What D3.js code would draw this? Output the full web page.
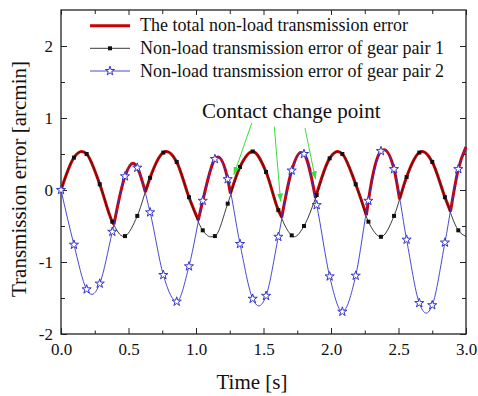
<!DOCTYPE html>
<html>
<head>
<meta charset="utf-8">
<script src="https://cdn.jsdelivr.net/npm/d3@7"></script>
<style>
  body { margin: 0; background: #fff; }
  svg text { font-family: "Liberation Serif", "Times New Roman", serif; fill: #111; }
</style>
</head>
<body>
<div id="chart"></div>
<script>
// times of the plotted symbols [s]
const markerTimes = [0, 0.096, 0.19, 0.287, 0.38, 0.474, 0.565, 0.66, 0.758, 0.857, 0.948,
  1.05, 1.14, 1.235, 1.326, 1.42, 1.519, 1.61, 1.709, 1.8, 1.894, 1.99,
  2.084, 2.183, 2.277, 2.37, 2.467, 2.56, 2.654, 2.75, 2.844, 2.943]

// gear pair 1 at the symbol times [arcmin]
const gear1Values = [0, 0.45, 0.50, 0.08, -0.44, -0.64, -0.36, 0.17, 0.52, 0.39, -0.10,
  -0.56, -0.64, -0.19, 0.32, 0.535, 0.25, -0.28, -0.63, -0.50, -0.07, 0.44,
  0.50, 0.08, -0.44, -0.65, -0.36, 0.18, 0.52, 0.39, -0.10, -0.56]
// gear pair 1 peaks / troughs between symbols
const gear1Extremes = [[0.153, 0.535], [0.464, -0.645], [0.78, 0.535], [1.107, -0.65],
  [1.728, -0.65], [2.049, 0.535], [2.677, 0.535], [3.0, -0.645]]

// gear pair 2 at the symbol times [arcmin]
const gear2Values = [0, -0.76, -1.38, -1.30, -0.58, 0.19, 0.31, -0.31, -1.18, -1.55, -1.06,
  -0.15, 0.43, 0.15, -0.75, -1.51, -1.47, -0.65, 0.27, 0.50, -0.21, -1.2,
  -1.69, -1.19, -0.15, 0.54, 0.29, -0.69, -1.57, -1.60, -0.73, 0.29]
const gear2Extremes = [[0.23, -1.45], [0.533, 0.37], [1.162, 0.46], [1.465, -1.61],
  [1.775, 0.52], [2.393, 0.56], [2.705, -1.71], [3.0, 0.60]]

// total non-load transmission error, with the contact change points
const totalCurve = [[0, 0], [0.096, 0.45], [0.153, 0.535], [0.19, 0.50], [0.287, 0.08], [0.38, -0.44],
  [0.392, -0.48], [0.474, 0.19], [0.533, 0.37], [0.565, 0.31],
  [0.625, -0.03], [0.66, 0.17], [0.758, 0.52], [0.78, 0.535], [0.857, 0.39], [0.948, -0.10],
  [1.017, -0.42], [1.05, -0.15], [1.14, 0.43], [1.162, 0.46], [1.235, 0.15],
  [1.255, -0.05], [1.326, 0.32], [1.42, 0.535], [1.519, 0.25], [1.61, -0.28],
  [1.635, -0.38], [1.709, 0.27], [1.775, 0.52], [1.8, 0.50],
  [1.885, -0.11], [1.99, 0.44], [2.049, 0.535], [2.084, 0.50], [2.183, 0.08],
  [2.262, -0.35], [2.277, -0.15], [2.37, 0.54], [2.393, 0.56], [2.467, 0.29],
  [2.508, -0.13], [2.56, 0.18], [2.654, 0.52], [2.677, 0.535], [2.75, 0.39], [2.844, -0.10],
  [2.885, -0.30], [2.943, 0.29], [3.0, 0.60]]
const contactTimes = [0.392, 0.625, 1.017, 1.255, 1.635, 1.885, 2.262, 2.508, 2.885]

const xTicks = [0, 0.5, 1, 1.5, 2, 2.5, 3]
const xMinorTicks = [0.25, 0.75, 1.25, 1.75, 2.25, 2.75]
const yTicks = [-2, -1, 0, 1, 2]
const yMinorTicks = [-1.5, -0.5, 0.5, 1.5]

const seriesNames = ["The total non-load transmission error",
  "Non-load transmission error of gear pair 1",
  "Non-load transmission error of gear pair 2"]

const noteText = "Contact change point"
const notePos = [1.045, 1.0]
const arrowStarts = [[1.413, 0.93], [1.58, 0.88], [1.807, 0.86]]
const arrowEnds = [[1.28, 0.21], [1.627, -0.16], [1.885, 0.15]]

class TransmissionErrorChart {
  constructor(id) {
    this.width = 478
    this.height = 396
    this.left = 61
    this.right = 466
    this.top = 10
    this.bottom = 334
    this.red = "#cc0000"
    this.black = "#222222"
    this.blue = "#3434c8"
    this.green = "#3cdc3c"
    this.container = document.getElementById(id)
  }

  render() {
    this.svg = d3.select(this.container).append("svg")
      .attr("width", this.width)
      .attr("height", this.height)
    this.x = d3.scaleLinear().domain([0, 3]).range([this.left, this.right])
    this.y = d3.scaleLinear().domain([-2, 2.5]).range([this.bottom, this.top])
    this.draw_axes()
    this.draw_series()
    this.draw_legend()
    this.draw_note()
  }

  draw_axes() {
    const svg = this.svg
    const x = this.x, y = this.y
    const fmt = d => String(d)

    var left = svg.append("g").attr("transform", `translate(${this.left},0)`)
      .call(d3.axisLeft(y).tickValues(yTicks).tickSize(-6).tickPadding(8).tickFormat(fmt))
    left.append("g").call(d3.axisLeft(y).tickValues(yMinorTicks).tickSize(-4).tickFormat(""))
    var right = svg.append("g").attr("transform", `translate(${this.right},0)`)
      .call(d3.axisRight(y).tickValues(yTicks).tickSize(-6).tickFormat(""))
    right.append("g").call(d3.axisRight(y).tickValues(yMinorTicks).tickSize(-4).tickFormat(""))
    var bottom = svg.append("g").attr("transform", `translate(0,${this.bottom})`)
      .call(d3.axisBottom(x).tickValues(xTicks).tickSize(-6).tickPadding(9).tickFormat(d3.format(".1f")))
    bottom.append("g").call(d3.axisBottom(x).tickValues(xMinorTicks).tickSize(-3.5).tickFormat(""))
    var topAxis = svg.append("g").attr("transform", `translate(0,${this.top})`)
      .call(d3.axisTop(x).tickValues(xTicks).tickSize(-5).tickFormat(""))
    topAxis.append("g").call(d3.axisTop(x).tickValues(xMinorTicks).tickSize(-4).tickFormat(""))

    svg.selectAll(".domain").remove()
    svg.selectAll(".tick line").attr("stroke", "#222").attr("stroke-width", 1)
    svg.selectAll(".tick text")
      .style("font-family", '"Liberation Serif", serif')
      .style("font-size", "17px")
      .attr("fill", "#111")

    // frame
    svg.append("rect")
      .attr("x", this.left).attr("y", this.top)
      .attr("width", this.right - this.left).attr("height", this.bottom - this.top)
      .attr("fill", "none").attr("stroke", "#222").attr("stroke-width", 1.3)

    svg.append("text")
      .attr("x", 252).attr("y", 389)
      .attr("text-anchor", "middle")
      .style("font-size", "21px")
      .text("Time [s]")
    svg.append("text")
      .attr("transform", "translate(26,179) rotate(-90)")
      .attr("text-anchor", "middle")
      .style("font-size", "21px")
      .text("Transmission error [arcmin]")
  }

  merge(values, extremes) {
    const pts = markerTimes.map((t, i) => [t, values[i]]).concat(extremes)
    return pts.sort((a, b) => a[0] - b[0])
  }

  draw_series() {
    const x = this.x, y = this.y
    const line = d3.line().x(d => x(d[0])).y(d => y(d[1])).curve(d3.curveMonotoneX)
    var g = this.svg.append("g")

    // total curve: split into pieces at the contact change points
    var pieces = [[]]
    totalCurve.forEach(p => {
      pieces[pieces.length - 1].push(p)
      if (contactTimes.includes(p[0])) pieces.push([p])
    })
    g.append("path")
      .attr("d", pieces.map(s => line(s)).join(""))
      .attr("fill", "none")
      .attr("stroke", this.red)
      .attr("stroke-width", 3)
      .attr("stroke-linejoin", "miter")

    // gear pair 1
    g.append("path")
      .attr("d", line(this.merge(gear1Values, gear1Extremes)))
      .attr("fill", "none").attr("stroke", this.black).attr("stroke-width", 0.9)
    g.selectAll("path.sq").data(markerTimes).join("path")
      .attr("class", "sq")
      .attr("transform", (t, i) => `translate(${x(t)},${y(gear1Values[i])})`)
      .attr("d", d3.symbol(d3.symbolSquare, 16))
      .attr("fill", "#111")

    // gear pair 2
    g.append("path")
      .attr("d", line(this.merge(gear2Values, gear2Extremes)))
      .attr("fill", "none").attr("stroke", this.blue).attr("stroke-width", 0.9)
    g.selectAll("path.star").data(markerTimes).join("path")
      .attr("class", "star")
      .attr("transform", (t, i) => `translate(${x(t)},${y(gear2Values[i])})`)
      .attr("d", d3.symbol(d3.symbolStar, 26))
      .attr("fill", "#fff")
      .attr("stroke", this.blue)
      .attr("stroke-width", 1)
  }

  draw_legend() {
    var lg = this.svg.append("g")
    const rows = [25.7, 48.3, 71]
    const colors = [this.red, this.black, this.blue]
    const widths = [3, 0.9, 0.9]
    rows.forEach((ry, i) => {
      lg.append("line")
        .attr("x1", 90).attr("x2", 130).attr("y1", ry).attr("y2", ry)
        .attr("stroke", colors[i]).attr("stroke-width", widths[i])
      lg.append("text")
        .attr("x", 140).attr("y", ry + 5.5)
        .style("font-size", "18px")
        .text(seriesNames[i])
    })
    lg.append("path")
      .attr("transform", `translate(110,${rows[1]})`)
      .attr("d", d3.symbol(d3.symbolSquare, 16))
      .attr("fill", "#111")
    lg.append("path")
      .attr("transform", `translate(110,${rows[2]})`)
      .attr("d", d3.symbol(d3.symbolStar, 26))
      .attr("fill", "#fff").attr("stroke", this.blue)
  }

  draw_note() {
    const x = this.x, y = this.y
    this.svg.append("defs").append("marker")
      .attr("id", "head")
      .attr("markerUnits", "userSpaceOnUse")
      .attr("markerWidth", 8).attr("markerHeight", 6)
      .attr("refX", 8).attr("refY", 3)
      .attr("orient", "auto")
      .append("path")
      .attr("d", "M0,0L8,3L0,6Z")
      .attr("fill", this.green)
    var note = this.svg.append("g")
    arrowStarts.forEach((s, i) => {
      note.append("line")
        .attr("x1", x(s[0])).attr("y1", y(s[1]))
        .attr("x2", x(arrowEnds[i][0])).attr("y2", y(arrowEnds[i][1]))
        .attr("stroke", this.green).attr("stroke-width", 1)
        .attr("marker-end", "url(#head)")
    })
    note.append("text")
      .attr("x", x(notePos[0])).attr("y", y(notePos[1]))
      .style("font-size", "21px")
      .text(noteText)
  }
}

console.log('- Init TransmissionErrorChart...')
new TransmissionErrorChart("chart").render()
</script>
</body>
</html>
